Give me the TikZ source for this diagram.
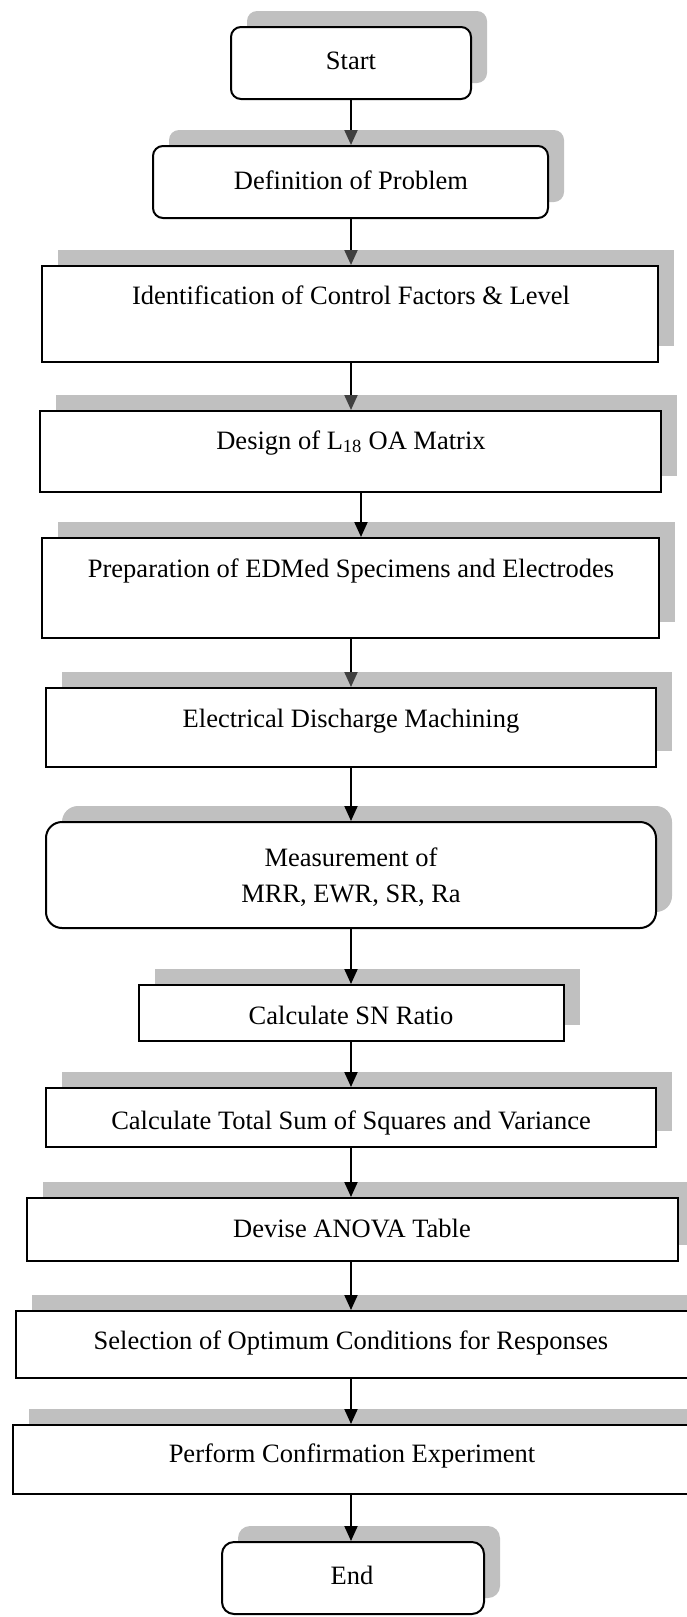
\documentclass[tikz,border=0pt]{standalone}
\usepackage{fontspec}
\setmainfont{Liberation Serif}
\usetikzlibrary{arrows.meta,shadows}

\definecolor{shadegray}{RGB}{192,192,192}
\definecolor{tipgray}{RGB}{64,64,64}

\tikzset{
  box/.style={draw=black, line width=2pt, fill=white, rectangle, inner sep=0pt,
              general shadow={fill=shadegray, shadow xshift=16pt, shadow yshift=16pt}},
  rbox/.style={box, rounded corners=#1},
  lbl/.style={anchor=base, inner sep=0pt, align=center,
              font=\fontsize{26.5}{36}\selectfont},
  arr/.style={line width=2pt, draw=black, -{Triangle[length=15pt,width=13pt]}},
  garr/.style={line width=2pt, draw=black,
               -{Triangle[length=15pt,width=13pt,color=tipgray,fill=tipgray]}},
}

\begin{document}
\begin{tikzpicture}[x=1pt, y=-1pt]
  \useasboundingbox (0,0) rectangle (687,1617);
  \clip (0,0) rectangle (687,1617);

  % boxes (centre, size)
  \node[rbox=10pt, minimum width=240pt, minimum height=72pt]  (b1)  at (351,63)     {};
  \node[rbox=10pt, minimum width=395pt, minimum height=72pt]  (b2)  at (350.5,182)  {};
  \node[box, minimum width=616pt, minimum height=96pt]        (b3)  at (350,314)    {};
  \node[box, minimum width=621pt, minimum height=81pt]        (b4)  at (350.5,451.5){};
  \node[box, minimum width=617pt, minimum height=100pt]       (b5)  at (350.5,588)  {};
  \node[box, minimum width=610pt, minimum height=79pt]        (b6)  at (351,727.5)  {};
  \node[rbox=16pt, minimum width=610pt, minimum height=106pt] (b7)  at (351,875)    {};
  \node[box, minimum width=425pt, minimum height=56pt]        (b8)  at (351.5,1013) {};
  \node[box, minimum width=610pt, minimum height=59pt]        (b9)  at (351,1117.5) {};
  \node[box, minimum width=651pt, minimum height=63pt]        (b10) at (352.5,1229.5){};
  \node[box, minimum width=684pt, minimum height=67pt]        (b11) at (358,1344.5) {};
  \node[box, minimum width=687pt, minimum height=69pt]        (b12) at (356.5,1459.5){};
  \node[rbox=12pt, minimum width=262pt, minimum height=72pt]  (b13) at (353,1578)   {};

  % labels
  \node[lbl] (t1)  at (351,69)   {Start};
  \node[lbl] (t2)  at (351,189)  {Definition of Problem};
  \node[lbl] (t3)  at (351,304)  {Identification of Control Factors \& Level};
  \node[lbl] (t4)  at (351,449)  {Design of L\textsubscript{18} OA Matrix};
  \node[lbl] (t5)  at (351,577)  {Preparation of EDMed Specimens and Electrodes};
  \node[lbl] (t6)  at (351,727)  {Electrical Discharge Machining};
  \node[lbl] (t7a) at (351,866)  {Measurement of};
  \node[lbl] (t7b) at (351,902)  {MRR, EWR, SR, Ra};
  \node[lbl] (t8)  at (351,1024) {Calculate SN Ratio};
  \node[lbl] (t9)  at (351,1129) {Calculate Total Sum of Squares and Variance};
  \node[lbl] (t10) at (352,1237) {Devise ANOVA Table};
  \node[lbl] (t11) at (351,1349) {Selection of Optimum Conditions for Responses};
  \node[lbl] (t12) at (352,1462) {Perform Confirmation Experiment};
  \node[lbl] (t13) at (352,1584) {End};

  % connectors
  \coordinate (ax) at (351,0);
  \coordinate (ay) at (361,0);
  \draw[garr] (b1.south -| ax)  -- (b2.north -| ax);
  \draw[garr] (b2.south -| ax)  -- (b3.north -| ax);
  \draw[garr] (b3.south -| ax)  -- (b4.north -| ax);
  \draw[arr]  (b4.south -| ay)  -- (b5.north -| ay);
  \draw[garr] (b5.south -| ax)  -- (b6.north -| ax);
  \draw[arr]  (b6.south -| ax)  -- (b7.north -| ax);
  \draw[arr]  (b7.south -| ax)  -- (b8.north -| ax);
  \draw[arr]  (b8.south -| ax)  -- (b9.north -| ax);
  \draw[arr]  (b9.south -| ax)  -- (b10.north -| ax);
  \draw[arr]  (b10.south -| ax) -- (b11.north -| ax);
  \draw[arr]  (b11.south -| ax) -- (b12.north -| ax);
  \draw[arr]  (b12.south -| ax) -- (b13.north -| ax);
\end{tikzpicture}
\end{document}
